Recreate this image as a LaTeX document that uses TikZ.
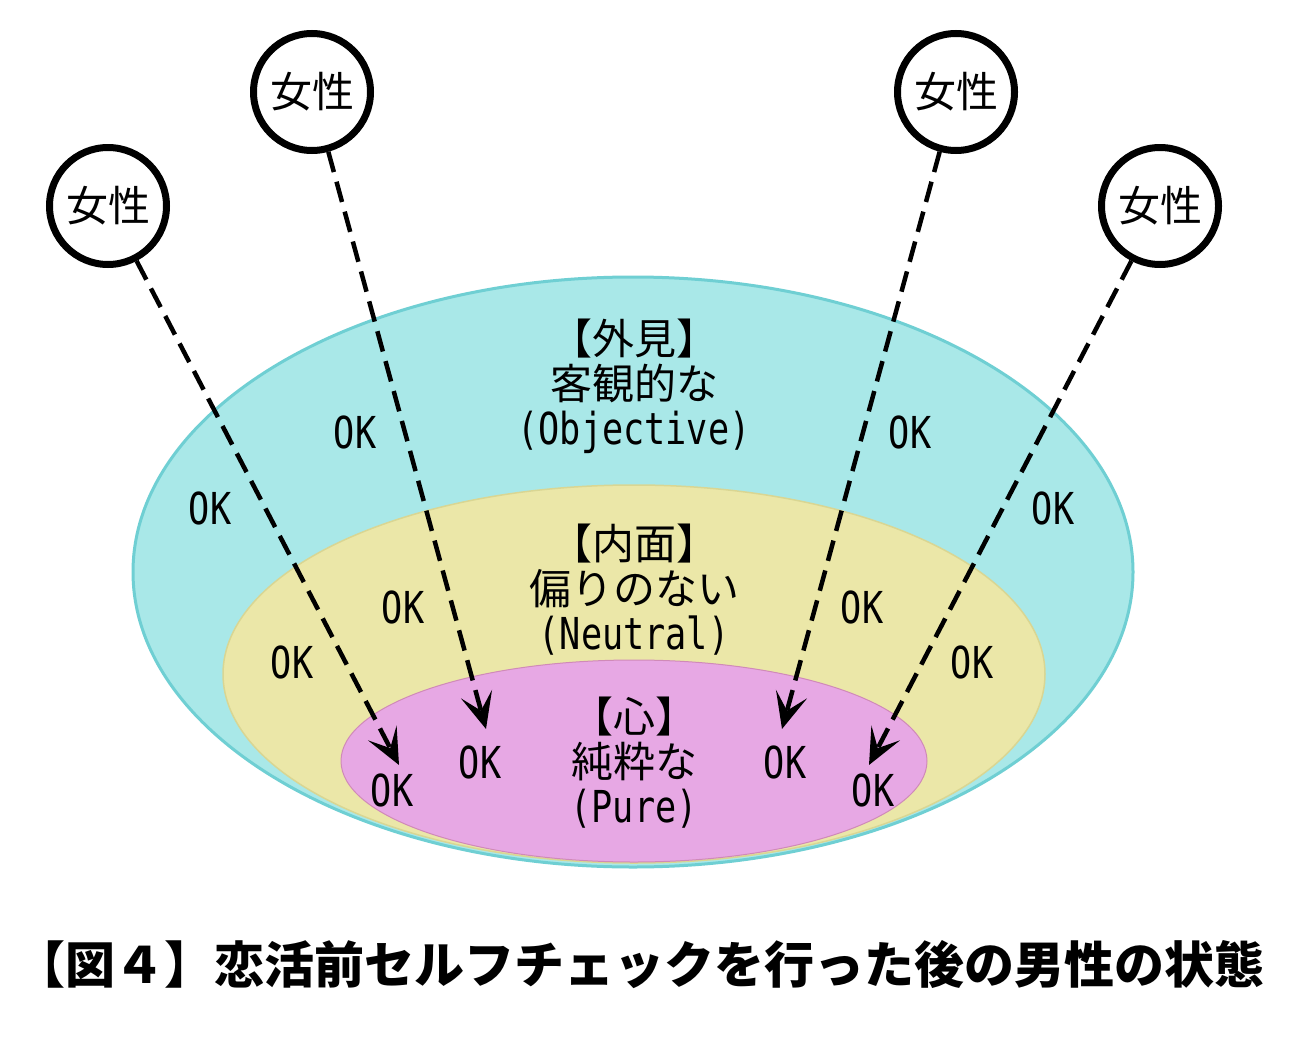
\documentclass[tikz,border=0pt]{standalone}
\usepackage{fontspec}
\usepackage{graphicx}
\usepackage{tikz}
\usepackage{xcolor}
\usetikzlibrary{arrows.meta}
\setmainfont{Noto Sans CJK JP}
\newfontfamily\latinmono{DejaVu Sans Mono}
\newcommand{\en}[1]{\scalebox{0.8}[1]{\latinmono\fontsize{44}{45}\selectfont #1}}
\definecolor{outerfill}{HTML}{A9E8E8}
\definecolor{outerline}{HTML}{6FCFD3}
\definecolor{midfill}{HTML}{EBE7A8}
\definecolor{midline}{HTML}{D9D693}
\definecolor{innerfill}{HTML}{E7A8E4}
\definecolor{innerline}{HTML}{D08AB8}

\begin{document}
\begin{tikzpicture}[x=1pt,y=-1pt,
    woman/.style={circle,draw,line width=7pt,minimum size=117pt,inner sep=0pt,font=\fontsize{42}{45}\selectfont},
    oklabel/.style={inner sep=0pt},
    layer label/.style={align=center,inner sep=0pt,font=\fontsize{42}{45}\selectfont},
    link/.style={-{Stealth[length=36pt,width=32pt,inset=17pt]},line width=4.5pt,dash pattern=on 21pt off 10pt}]

    \useasboundingbox[fill=white] (0,0) rectangle (1301,1036);

    % three layers
    \draw[line width=3pt,draw=outerline,fill=outerfill] (633,572) ellipse [x radius=500,y radius=295];
    \draw[line width=1.5pt,draw=midline,fill=midfill] (634,674) ellipse [x radius=411,y radius=189];
    \draw[line width=1pt,draw=innerline,fill=innerfill] (634,761) ellipse [x radius=293,y radius=101];

    \node[layer label] (outer) at (634,386) {【外見】\\客観的な\\\en{(Objective)}};
    \node[layer label] (middle) at (634,590) {【内面】\\偏りのない\\\en{(Neutral)}};
    \node[layer label] (inner) at (634,763) {【心】\\純粋な\\\en{(Pure)}};

    \foreach \place/\name in {{(355,432)/ok1}, {(210,508)/ok2}, {(403,607)/ok3}, {(292,662)/ok4}, {(392,790)/ok5}, {(480,762)/ok6},
                              {(910,432)/ok7}, {(1053,508)/ok8}, {(862,607)/ok9}, {(972,662)/ok10}, {(785,762)/ok11}, {(873,790)/ok12}}
        \node[oklabel] (\name) at \place {\en{OK}};

    \foreach \place/\name in {{(108,206)/w1}, {(312,92)/w2}, {(956,92)/w3}, {(1160,206)/w4}}
        \node[woman] (\name) at \place {女性};

    \foreach \place/\name in {{(399,765)/t1}, {(486,729)/t2}, {(782,729)/t3}, {(869,765)/t4}}
        \path \place coordinate (\name);

    \foreach \source/\dest in {w1/t1, w2/t2, w3/t3, w4/t4}
        \path (\source) edge[link] (\dest);

    \node[inner sep=0pt,font=\bfseries\fontsize{50}{52}\selectfont] (caption) at (640,965) {【図４】恋活前セルフチェックを行った後の男性の状態};
\end{tikzpicture}
\end{document}
